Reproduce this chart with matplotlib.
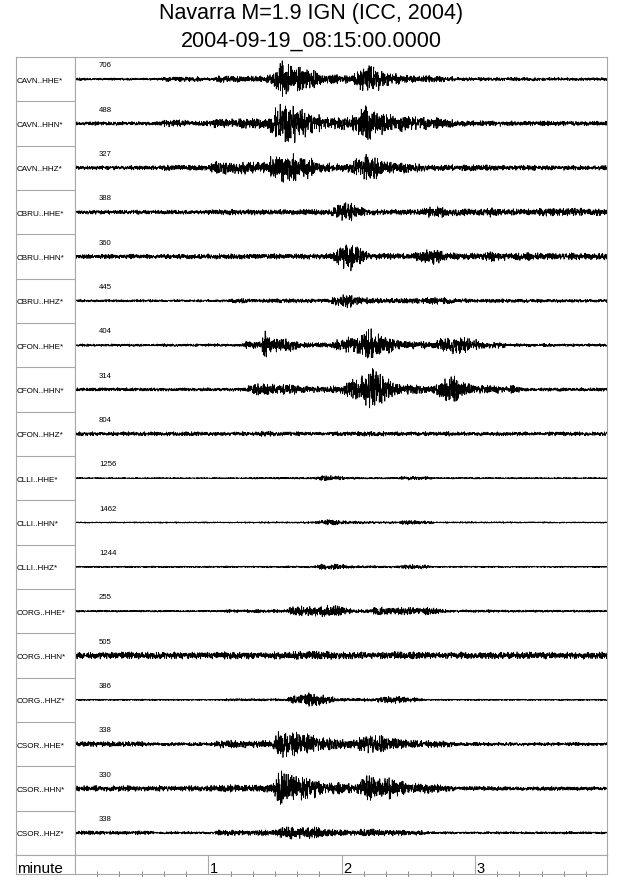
import numpy as np
import matplotlib
matplotlib.use("Agg")
import matplotlib.pyplot as plt

plt.rcParams['font.family'] = ['Liberation Sans', 'DejaVu Sans']

#---------- data

title1 = "Navarra M=1.9 IGN (ICC, 2004)"
title2 = "2004-09-19_08:15:00.0000"

stations = ["CAVN..HHE*", "CAVN..HHN*", "CAVN..HHZ*",
            "CBRU..HHE*", "CBRU..HHN*", "CBRU..HHZ*",
            "CFON..HHE*", "CFON..HHN*", "CFON..HHZ*",
            "CLLI..HHE*", "CLLI..HHN*", "CLLI..HHZ*",
            "CORG..HHE*", "CORG..HHN*", "CORG..HHZ*",
            "CSOR..HHE*", "CSOR..HHN*", "CSOR..HHZ*"]
scales = [706, 488, 327, 388, 360, 445, 404, 314, 804,
          1256, 1462, 1244, 255, 505, 386, 338, 330, 338]

# envelope of each trace: (time in s, half amplitude in screen px)
cavn_hhe = [(0,1.0),(38,1.0),(42,2.2),(55,2.0),(58,1.2),(62,1.2),(64,2.8),(85,2.6),(88,5),(93,14),
            (100,10),(107,7),(112,4),(125,3),(128,8),(133,12),(140,6),(150,3),(165,2.5),(175,1.5),(240,1.3)]
cavn_hhn = [(0,1.5),(38,1.5),(40,3.5),(50,3.0),(52,2),(60,2),(62,3.8),(86,4),(88,8),(93,17),(100,14),
            (108,8),(112,5),(124,5),(127,9),(131,14),(140,8),(155,5),(167,4),(172,2.2),(240,1.8)]
cavn_hhz = [(0,1.7),(38,1.7),(41,2.5),(60,2.2),(62,5),(86,5),(88,9),(93,12),(105,9),(110,4),(124,3.5),
            (127,8),(132,11),(140,5),(150,4),(158,2.5),(240,1.7)]
cbru_hhe = [(0,1.7),(58,1.7),(60,2.2),(115,2.2),(117,5),(122,8),(127,5),(132,2.2),(155,2.2),(158,4),
            (162,5),(168,3),(185,2.8),(187,4),(190,2.8),(205,2.5),(210,3.2),(230,3.2),(240,2.5)]
cbru_hhn = [(0,1.8),(58,1.8),(60,2.2),(115,2.2),(117,6),(124,11),(130,5),(133,2.5),(152,2.5),(155,5),
            (162,6),(168,3),(185,3),(187,4.5),(190,3),(240,2.6)]
cbru_hhz = [(0,1.0),(68,1.0),(70,1.7),(115,1.7),(117,3.5),(123,5.5),(130,2.5),(155,2),(160,3),(170,2.5),
            (178,1.5),(240,1.3)]
cfon_hhe = [(0,1),(38,1),(40,1.8),(42,1),(75,1.2),(77,3),(84,3.5),(85.5,13),(87,6),(98,4.5),(101,2),
            (116,2),(118,5),(126,7),(133,13),(140,7),(148,3),(162,3),(164,6),(172,7),(180,5),(183,2.5),
            (192,2.5),(195,1.3),(240,1.2)]
cfon_hhn = [(0,1.4),(76,1.4),(78,3.5),(85,5),(92,4),(104,3.5),(106,2.5),(120,3),(125,8),(130,14),(134,17),
            (140,10),(145,4),(160,3),(163,7),(170,12),(175,6),(180,3.5),(198,3),(202,1.4),(240,1.4)]
cfon_hhz = [(0,1.6),(80,1.6),(85,2.6),(90,1.7),(122,1.7),(130,2.3),(140,1.7),(240,1.6)]
clli_hhe = [(0,0.5),(75,0.5),(80,0.8),(108,0.8),(112,2.5),(118,2),(123,1),(145,0.8),(148,1.6),(158,1.5),
            (162,0.7),(240,0.5)]
clli_hhn = [(0,0.5),(75,0.6),(108,0.8),(110,2),(116,3),(122,1.2),(145,0.8),(148,1.6),(158,1.4),(162,0.7),
            (240,0.5)]
clli_hhz = [(0,0.6),(75,0.7),(107,0.8),(109,2.0),(118,2.2),(126,1.0),(145,0.8),(147,1.8),(158,1.8),
            (161,0.7),(240,0.6)]
corg_hhe = [(0,0.8),(66,0.8),(68,1.3),(95,1.3),(97,4),(105,4),(115,5.5),(123,3),(126,1.4),(133,1.4),
            (135,3.5),(160,3),(167,1.2),(240,0.8)]
corg_hhn = [(0,2.8),(95,2.8),(100,3.8),(115,3.8),(118,2.8),(138,2.8),(142,3.4),(148,2.8),(240,2.8)]
corg_hhz = [(0,0.6),(66,0.6),(68,1.0),(95,1.0),(97,3),(106,5.5),(116,2.5),(118,1.2),(135,1.2),(137,2.5),
            (144,3),(154,1.5),(158,0.6),(240,0.6)]
csor_hhe = [(0,2.2),(30,2.2),(33,1.4),(62,1.4),(64,3),(89,3),(92,12),(100,10),(111,5),(127,3.5),(130,8),
            (138,7),(148,3.5),(168,2.5),(172,1.5),(240,1.4)]
csor_hhn = [(0,2.2),(60,2.2),(63,2.8),(89,3),(92,14),(100,10),(114,5),(127,3.5),(130,11),(138,9),(150,5),
            (165,3),(172,1.8),(240,1.6)]
csor_hhz = [(0,1.6),(33,1.6),(36,1.0),(62,1.0),(64,2.2),(90,2.2),(93,5),(105,5),(117,2.5),(127,2.2),
            (132,3.8),(139,2.5),(155,1.8),(160,1.0),(240,1.0)]

envelopes = [cavn_hhe, cavn_hhn, cavn_hhz, cbru_hhe, cbru_hhn, cbru_hhz,
             cfon_hhe, cfon_hhn, cfon_hhz, clli_hhe, clli_hhn, clli_hhz,
             corg_hhe, corg_hhn, corg_hhz, csor_hhe, csor_hhn, csor_hhz]

minute_ticks = [1, 2, 3]

#---------- layout (screen pixels)

W, H = 640, 878
left, split, right = 16, 75, 607
top, rows_bottom, bottom = 58, 856, 875
tmax = 239.4          # seconds shown across the trace area
fs = 12.0             # samples per second of the drawn traces
nrow = len(stations)
row_px = (rows_bottom - top) / nrow
gray = '#a8a8a8'

def box(l, t, r, b):
    return [l / W, 1 - b / H, (r - l) / W, (b - t) / H]

# deterministic chaotic carrier (logistic map) used as the wiggle texture
def chaos(n, x0):
    out = np.empty(n)
    v = x0
    for i in range(n):
        v = 3.9999 * v * (1 - v)
        out[i] = v
    return 2 * out - 1

def seed(k):
    return 0.05 + 0.9 * ((0.6180339 * k + 0.137) % 1.0)

t = np.arange(0, tmax, 1 / fs)

fig = plt.figure(figsize=(W / 100, H / 100), dpi=100)
fig.text(0.5 * (left + right) / W, 1 - 18.5 / H, title1, ha='center', va='baseline', fontsize=15.5)
fig.text(0.5 * (left + right) / W, 1 - 46.8 / H, title2, ha='center', va='baseline', fontsize=15.5)

# label column
axl = fig.add_axes(box(left, top, split, rows_bottom))
axl.set_xlim(0, split - left)
axl.set_ylim(nrow, 0)
axl.set_xticks([])
axl.set_yticks([])
for s in axl.spines.values():
    s.set_color(gray)
for i in range(1, nrow):
    axl.axhline(i, color=gray, lw=0.8)
for i, name in enumerate(stations):
    axl.text(1.0, i + 0.52, name, ha='left', va='center', fontsize=5.9)

# traces
ax = fig.add_axes(box(split, top, right, rows_bottom))
ax.set_xlim(0, tmax)
ax.set_ylim(nrow, 0)
ax.set_xticks([])
ax.set_yticks([])
for s in ax.spines.values():
    s.set_color(gray)
for i, env in enumerate(envelopes):
    et = [p[0] for p in env]
    ea = [p[1] for p in env]
    amp = np.interp(t, et, ea) / row_px
    c = chaos(len(t), seed(3 * i)) + chaos(len(t), seed(3 * i + 1)) + chaos(len(t), seed(3 * i + 2))
    c = c / np.percentile(np.abs(c), 92)
    ax.plot(t, i + 0.5 - amp * c, color='black', lw=0.55)
    ax.text((99 - split) / (right - split) * tmax, i + 7.7 / row_px, str(scales[i]),
            ha='left', va='center', fontsize=5.6)

# minute row
axm = fig.add_axes(box(left, rows_bottom, split, bottom))
axm.set_xticks([])
axm.set_yticks([])
for s in axm.spines.values():
    s.set_color(gray)
axm.text(0.01, 0.1, "minute", transform=axm.transAxes, ha='left', va='baseline', fontsize=11)

axt = fig.add_axes(box(split, rows_bottom, right, bottom))
axt.set_xlim(0, tmax / 60)
axt.set_ylim(0, 1)
axt.set_yticks([])
axt.set_xticks([])
axt.set_xticks([k / 6 for k in range(1, 24) if k % 6], minor=True)
axt.tick_params(which='minor', direction='inout', length=4, width=0.6, color='#777777', labelbottom=False)
for s in axt.spines.values():
    s.set_color(gray)
for m in minute_ticks:
    axt.axvline(m, color=gray, lw=0.8)
    axt.text(m + 1.5 / 133.0, 0.1, str(m), ha='left', va='baseline', fontsize=10.5)

fig.savefig("out.png", dpi=100)
